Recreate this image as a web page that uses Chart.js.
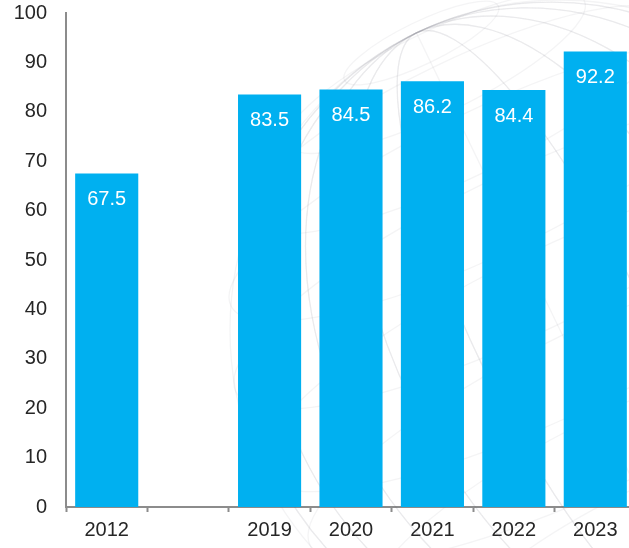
<!DOCTYPE html>
<html>
<head>
<meta charset="utf-8">
<script src="https://cdn.jsdelivr.net/npm/chart.js@4/dist/chart.umd.min.js"></script>
<style>
  html, body { margin: 0; padding: 0; background: #ffffff; overflow: hidden; }
  #wrap { position: relative; width: 640px; height: 548px; }
</style>
</head>
<body>
<div id="wrap"><canvas id="c" width="640" height="548"></canvas></div>
<script>
// Yearly index values; the blank category leaves a gap between 2012 and 2019
const years = ['2012', '', '2019', '2020', '2021', '2022', '2023'];
const values = [67.5, null, 83.5, 84.5, 86.2, 84.4, 92.2];
const yTicks = [0, 10, 20, 30, 40, 50, 60, 70, 80, 90, 100];

const barColor = '#00B0F0';
const axisColor = '#8c8c8c';
const textColor = '#262626';
const fontFamily = '"Liberation Sans", Arial, sans-serif';

// Faint wireframe globe drawn behind the bars
const globeBackdrop = {
  id: 'globeBackdrop',
  beforeDatasetsDraw(chart) {
    const ctx = chart.ctx;
    ctx.save();
    ctx.strokeStyle = 'rgba(120,120,130,0.08)';
    ctx.lineWidth = 1.3;
    const cx = 560, cy = 330, r = 330;
    ctx.beginPath();
    ctx.arc(cx, cy, r, 0, Math.PI * 2);
    ctx.stroke();
    for (let k = -5; k <= 5; k++) {
      const rx = Math.abs(r * Math.sin(k * Math.PI / 12));
      ctx.beginPath();
      ctx.ellipse(cx, cy, rx, r, -0.45, 0, Math.PI * 2);
      ctx.stroke();
    }
    for (let k = -5; k <= 5; k++) {
      const y = r * Math.sin(k * Math.PI / 12);
      const hw = Math.sqrt(Math.max(0, r * r - y * y));
      ctx.beginPath();
      ctx.ellipse(cx + y * Math.sin(0.45), cy + y * Math.cos(0.45), hw, hw * 0.25, -0.45, 0, Math.PI * 2);
      ctx.stroke();
    }
    ctx.restore();
  }
};

// White value labels placed inside the top of each bar
const valueLabels = {
  id: 'valueLabels',
  afterDatasetsDraw(chart) {
    const ctx = chart.ctx;
    const meta = chart.getDatasetMeta(0);
    ctx.save();
    ctx.fillStyle = '#ffffff';
    ctx.font = '20px ' + fontFamily;
    ctx.textAlign = 'center';
    ctx.textBaseline = 'middle';
    meta.data.forEach((bar, i) => {
      const v = values[i];
      if (v === null || v === undefined) return;
      ctx.fillText(v.toFixed(1), bar.x, bar.y + 26);
    });
    ctx.restore();
  }
};

new Chart(document.getElementById('c'), {
  type: 'bar',
  data: {
    labels: years,
    datasets: [{
      data: values,
      backgroundColor: barColor,
      borderWidth: 0,
      categoryPercentage: 1.0,
      barPercentage: 0.775
    }]
  },
  options: {
    responsive: false,
    animation: false,
    layout: { padding: { top: 13, right: 4, bottom: 0, left: 0 } },
    plugins: {
      legend: { display: false },
      tooltip: { enabled: false }
    },
    scales: {
      x: {
        offset: true,
        grid: {
          offset: true,
          drawOnChartArea: false,
          drawTicks: true,
          tickLength: 5,
          tickWidth: 2,
          tickColor: axisColor
        },
        border: { display: true, color: axisColor, width: 2 },
        ticks: {
          color: textColor,
          font: { family: fontFamily, size: 20 },
          padding: 6,
          maxRotation: 0
        },
        afterFit(scale) { scale.height = 41; scale.paddingLeft = 0; scale.paddingRight = 0; }
      },
      y: {
        min: 0,
        max: 100,
        afterBuildTicks(scale) { scale.ticks = yTicks.map(v => ({ value: v })); },
        grid: { display: false, drawTicks: false },
        border: { display: true, color: axisColor, width: 2 },
        ticks: {
          color: textColor,
          font: { family: fontFamily, size: 20 },
          padding: 19
        },
        afterFit(scale) { scale.width = 66; scale.paddingTop = 0; scale.paddingBottom = 0; }
      }
    }
  },
  plugins: [globeBackdrop, valueLabels]
});
</script>
</body>
</html>
